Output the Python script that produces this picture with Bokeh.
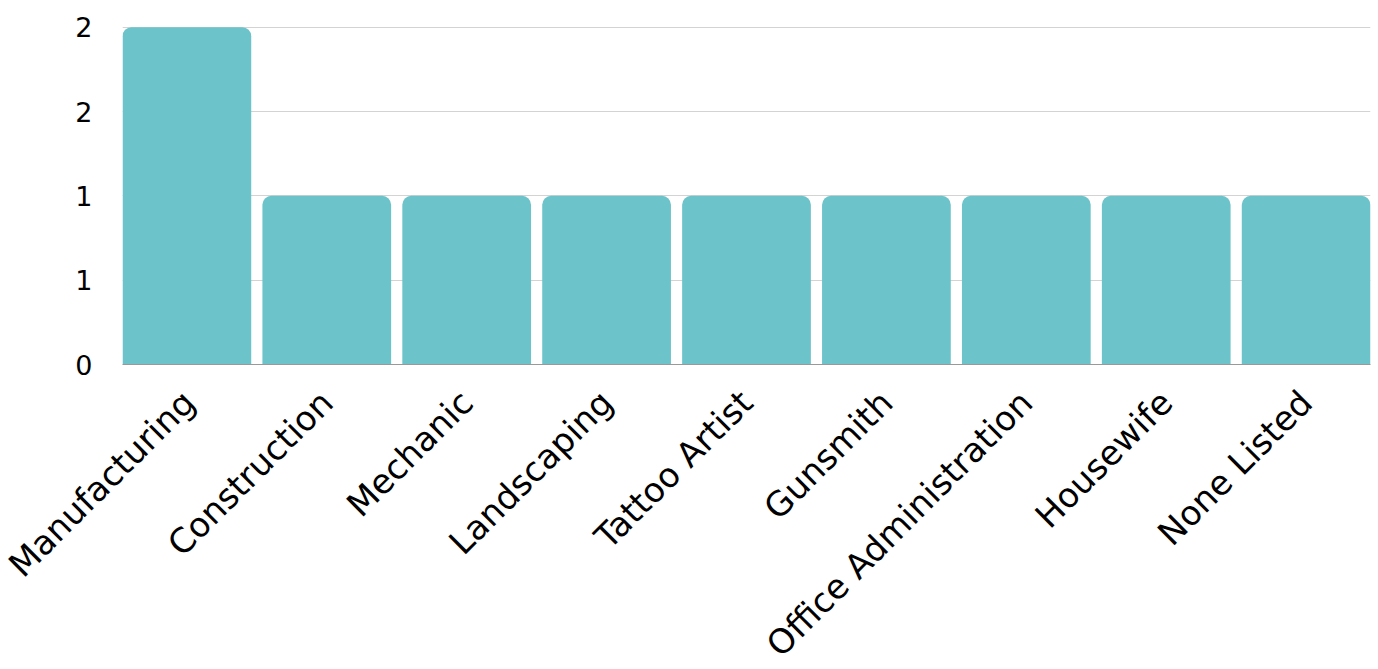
import math
from bokeh.plotting import figure
from bokeh.models import FactorRange, Range1d, FixedTicker, ColumnDataSource
from bokeh.embed import file_html
from bokeh.resources import INLINE

categories = ["Manufacturing", "Construction", "Mechanic", "Landscaping", "Tattoo Artist",
              "Gunsmith", "Office Administration", "Housewife", "None Listed"]
counts = [2, 1, 1, 1, 1, 1, 1, 1, 1]
y_ticks = [0, 0.5, 1, 1.5, 2]
y_tick_labels = ["0", "1", "1", "2", "2"]

FONT = "DejaVu Sans"
BAR_COLOR = "#6cc3c9"

src = ColumnDataSource(dict(cat=categories, val=counts))

p = figure(
    x_range=FactorRange(factors=categories, range_padding=-0.04, range_padding_units="absolute"),
    y_range=Range1d(0, 2.004),
    frame_width=1248, frame_height=338,
    width=1372, height=668,
    min_border_left=122, min_border_right=2, min_border_top=26, min_border_bottom=10,
    output_backend="svg", toolbar_location=None,
)
p.vbar(x="cat", top="val", width=0.92, source=src, fill_color=BAR_COLOR,
       line_color=None, border_radius=(9, 9, 0, 0))

p.outline_line_color = None
p.xgrid.grid_line_color = None
p.ygrid.grid_line_color = "#d3d3d3"
p.ygrid.grid_line_width = 1
p.ygrid.ticker = FixedTicker(ticks=y_ticks)

p.yaxis.ticker = FixedTicker(ticks=y_ticks)
p.yaxis.major_label_overrides = {t: l for t, l in zip(y_ticks, y_tick_labels)}
p.yaxis.axis_line_color = None
p.yaxis.major_tick_line_color = None
p.yaxis.minor_tick_line_color = None
p.yaxis.major_label_standoff = 24
p.yaxis.major_label_text_font = FONT
p.yaxis.major_label_text_font_size = "27px"
p.yaxis.major_label_text_color = "#000000"

p.xaxis.axis_line_color = "#999999"
p.xaxis.major_tick_line_color = None
p.xaxis.minor_tick_line_color = None
p.xaxis.major_label_orientation = math.pi / 4
p.xaxis.major_label_standoff = 26
p.xaxis.major_label_text_font = FONT
p.xaxis.major_label_text_font_size = "34px"
p.xaxis.major_label_text_color = "#000000"

open("out.html", "w").write(file_html(p, INLINE))
